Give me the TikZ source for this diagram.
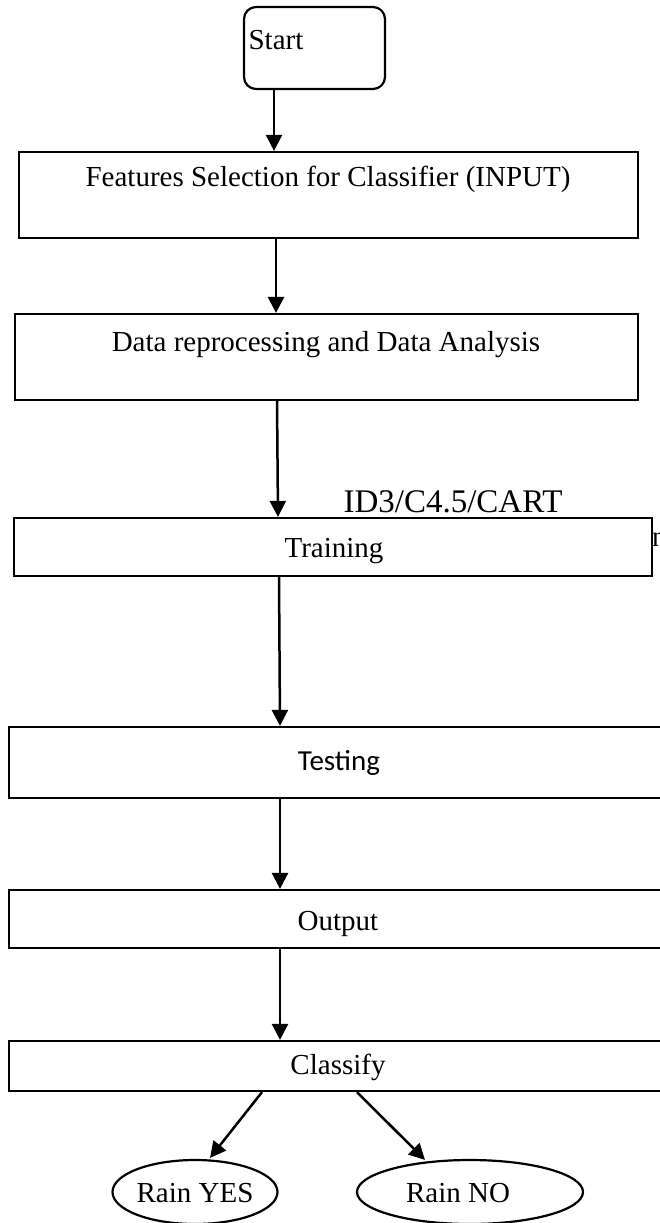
\documentclass[tikz,border=0pt]{standalone}
\usepackage{fontspec}
\setmainfont{Liberation Serif}
\newfontfamily\calibri{Carlito}
\usetikzlibrary{arrows.meta,shapes.geometric}
\begin{document}
\begin{tikzpicture}[x=1pt,y=-1pt,
 box/.style={draw=black, line width=2.2pt, inner sep=0pt},
 txt/.style={inner sep=0pt, anchor=base, font=\fontsize{29}{33}\selectfont},
 arr/.style={line width=2.5pt, -{Triangle[length=16pt,width=16pt]}},
 oval/.style={draw=black, line width=2.2pt, ellipse, inner sep=0pt},
]
\useasboundingbox (0,0) rectangle (660,1223);
\clip (0,0) rectangle (660,1223);
\fill[white] (0,0) rectangle (660,1223);
% boxes
\node[box, rounded corners=12pt, minimum width=141pt, minimum height=82pt] (start) at (314.5,48) {};
\node[box, minimum width=619pt, minimum height=86pt] (feat) at (328.5,195) {};
\node[box, minimum width=623pt, minimum height=86pt] (data) at (326.5,357) {};
\node[box, minimum width=638pt, minimum height=58pt] (train) at (333,547) {};
\node[box, minimum width=691pt, minimum height=71pt] (test) at (354.5,762.5) {};
\node[box, minimum width=691pt, minimum height=58pt] (out) at (354.5,919) {};
\node[box, minimum width=691pt, minimum height=50pt] (cls) at (354.5,1066) {};
\node[oval, minimum width=165pt, minimum height=64pt] (yes) at (195,1192) {};
\node[oval, minimum width=226pt, minimum height=64pt] (no) at (470,1192) {};
% texts
\node[txt] (startT) at (276,50) {Start};
\node[txt] (featT) at (328,186) {Features Selection for Classifier (INPUT)};
\node[txt] (dataT) at (326,351) {Data reprocessing and Data Analysis};
\node[txt, font=\fontsize{33}{37}\selectfont] (algT) at (453,512) {ID3/C4.5/CART};
\node[txt] (trainT) at (334,557) {Training};
\node[txt, font=\calibri\fontsize{29}{33}\selectfont] (testT) at (339,770) {Testing};
\node[txt] (outT) at (338,930) {Output};
\node[txt] (clsT) at (338,1074) {Classify};
\node[txt] (yesT) at (195,1202) {Rain YES};
\node[txt] (noT) at (458,1202) {Rain NO};
\node[txt, anchor=base west] (cutT) at (652,546) {n};
% connectors
\draw[arr] ([xshift=-40.5pt]start.south) -- ([xshift=-54.5pt]feat.north);
\draw[arr] ([xshift=-52.5pt]feat.south) -- ([xshift=-50.5pt]data.north);
\draw[arr] ([xshift=-49.5pt]data.south) -- ([xshift=-55pt]train.north);
\draw[arr] ([xshift=-54pt]train.south) -- ([xshift=-74.5pt]test.north);
\draw[arr] ([xshift=-74.5pt]test.south) -- ([xshift=-74.5pt]out.north);
\draw[arr] ([xshift=-74.5pt]out.south) -- ([xshift=-74.5pt]cls.north);
\draw[arr] ([xshift=-92.5pt]cls.south) -- ([xshift=15pt,yshift=1pt]yes.north);
\draw[arr] ([xshift=2.5pt]cls.south) -- ([xshift=-45pt,yshift=-1pt]no.north);
\end{tikzpicture}
\end{document}
